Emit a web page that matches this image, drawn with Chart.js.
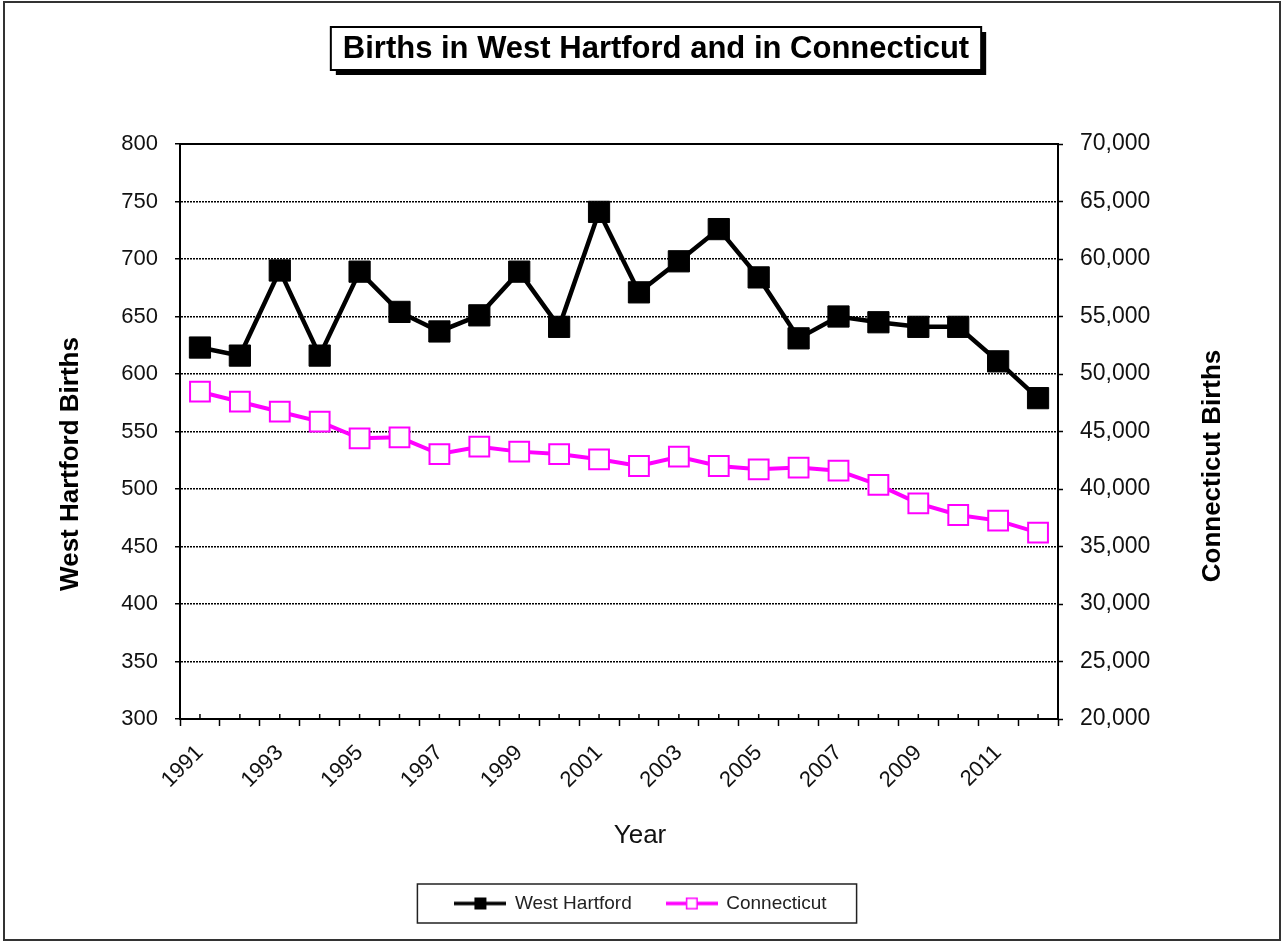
<!DOCTYPE html>
<html lang="en">
<head>
<meta charset="UTF-8">
<title>Births in West Hartford and in Connecticut</title>
<script src="https://cdn.jsdelivr.net/npm/chart.js@4"></script>
<style>
  body { margin: 0; background: #fff; }
  canvas { display: block; }
</style>
</head>
<body>
<canvas id="births-chart" width="1282" height="942"></canvas>
<script>
// values
const years = ['1991', '1992', '1993', '1994', '1995', '1996', '1997', '1998', '1999', '2000', '2001',
               '2002', '2003', '2004', '2005', '2006', '2007', '2008', '2009', '2010', '2011', '2012'];
const shownYears = ['1991', '1993', '1995', '1997', '1999', '2001', '2003', '2005', '2007', '2009', '2011'];
const westHartford = [623, 616, 690, 616, 689, 654, 637, 651, 689, 641, 741,
                      671, 698, 726, 684, 631, 650, 645, 641, 641, 611, 579];
const connecticut = [48460, 47590, 46720, 45860, 44410, 44490, 43040, 43680, 43250, 43040, 42580,
                     42000, 42810, 42000, 41710, 41860, 41590, 40350, 38750, 37740, 37250, 36200];

const chartTitle = 'Births in West Hartford and in Connecticut';
const xTitle = 'Year';
const leftTitle = 'West Hartford Births';
const rightTitle = 'Connecticut Births';

const FONT = "'Liberation Sans', Arial, sans-serif";
Chart.defaults.font.family = FONT;
Chart.defaults.color = '#111';

function legendSample(color, fill) {
    const c = document.createElement('canvas');
    c.width = 52;
    c.height = 14;
    const g = c.getContext('2d');
    g.strokeStyle = color;
    g.lineWidth = 3.5;
    g.beginPath();
    g.moveTo(0, 7);
    g.lineTo(52, 7);
    g.stroke();
    g.fillStyle = fill;
    g.fillRect(20, 1, 12, 12);
    g.lineWidth = 1.5;
    g.strokeRect(20.75, 1.75, 10.5, 10.5);
    return c;
}
const samples = [legendSample('#000', '#000'), legendSample('#ff00ff', '#fff')];

// frame, boxed title, axis titles, legend box, minor ticks
const decorations = {
    id: 'decorations',
    beforeDraw(chart) {
        const ctx = chart.ctx;
        ctx.save();
        ctx.fillStyle = '#fff';
        ctx.fillRect(0, 0, chart.width, chart.height);
        ctx.strokeStyle = '#333';
        ctx.lineWidth = 2;
        ctx.strokeRect(4, 2, chart.width - 6, chart.height - 4);
        ctx.restore();
    },
    afterDraw(chart) {
        const ctx = chart.ctx;
        const area = chart.chartArea;
        ctx.save();

        // solid top edge of the plot
        ctx.strokeStyle = '#000';
        ctx.lineWidth = 2;
        ctx.beginPath();
        ctx.moveTo(area.left, area.top);
        ctx.lineTo(area.right, area.top);
        ctx.stroke();

        // small ticks at each category centre
        const x = chart.scales.x;
        ctx.lineWidth = 1.5;
        years.forEach((y, i) => {
            const px = x.getPixelForValue(i);
            ctx.beginPath();
            ctx.moveTo(px, area.bottom);
            ctx.lineTo(px, area.bottom - 5);
            ctx.stroke();
        });

        // title box with drop shadow
        ctx.font = 'bold 31px ' + FONT;
        const tw = ctx.measureText(chartTitle).width;
        const bx = 656 - tw / 2 - 12, by = 27, bw = tw + 24, bh = 43;
        ctx.fillStyle = '#000';
        ctx.fillRect(bx + 5, by + 5, bw, bh);
        ctx.fillStyle = '#fff';
        ctx.fillRect(bx, by, bw, bh);
        ctx.lineWidth = 2;
        ctx.strokeRect(bx, by, bw, bh);
        ctx.fillStyle = '#000';
        ctx.textAlign = 'center';
        ctx.textBaseline = 'middle';
        ctx.fillText(chartTitle, 656, by + bh / 2 + 1);

        // axis titles
        ctx.font = 'bold 26px ' + FONT;
        ctx.save();
        ctx.translate(71, 464);
        ctx.rotate(-Math.PI / 2);
        ctx.fillText(leftTitle, 0, 0);
        ctx.restore();
        ctx.save();
        ctx.translate(1213, 466);
        ctx.rotate(-Math.PI / 2);
        ctx.fillText(rightTitle, 0, 0);
        ctx.restore();
        ctx.font = '26px ' + FONT;
        ctx.fillStyle = '#111';
        ctx.fillText(xTitle, 640, 836);

        // legend frame
        const boxes = chart.legend.legendHitBoxes;
        if (boxes && boxes.length) {
            const first = boxes[0], last = boxes[boxes.length - 1];
            const lx = first.left - 38;
            const rx = last.left + last.width + 30;
            ctx.strokeStyle = '#222';
            ctx.lineWidth = 1.5;
            ctx.strokeRect(lx, first.top - 10, rx - lx, first.height + 20);
        }
        ctx.restore();
    }
};

const ctx = document.getElementById('births-chart').getContext('2d');
new Chart(ctx, {
    type: 'line',
    data: {
        labels: years,
        datasets: [{
            label: 'West Hartford',
            data: westHartford,
            yAxisID: 'y',
            borderColor: '#000',
            borderWidth: 4.5,
            pointStyle: 'rect',
            pointRadius: 15,
            pointBackgroundColor: '#000',
            pointBorderColor: '#000',
            pointBorderWidth: 1,
            tension: 0
        }, {
            label: 'Connecticut',
            data: connecticut,
            yAxisID: 'y1',
            borderColor: '#ff00ff',
            borderWidth: 4,
            pointStyle: 'rect',
            pointRadius: 14,
            pointBackgroundColor: '#fff',
            pointBorderColor: '#ff00ff',
            pointBorderWidth: 2,
            tension: 0
        }]
    },
    options: {
        responsive: false,
        animation: false,
        layout: { padding: { top: 144, left: 0, right: 0, bottom: 19 } },
        plugins: {
            title: { display: false },
            tooltip: { enabled: false },
            legend: {
                position: 'bottom',
                labels: {
                    usePointStyle: true,
                    pointStyleWidth: 50,
                    padding: 35,
                    color: '#222',
                    font: { size: 19 },
                    generateLabels(chart) {
                        const items = Chart.defaults.plugins.legend.labels.generateLabels(chart);
                        items.forEach((it, i) => { it.pointStyle = samples[i]; });
                        return items;
                    }
                }
            }
        },
        scales: {
            x: {
                offset: true,
                grid: {
                    offset: true,
                    drawOnChartArea: false,
                    tickLength: 7,
                    tickColor: '#000',
                    tickWidth: 1.5
                },
                border: { color: '#000', width: 2 },
                ticks: {
                    autoSkip: false,
                    minRotation: 45,
                    maxRotation: 45,
                    padding: 14,
                    font: { size: 22 },
                    callback(value, i) {
                        return shownYears.includes(years[i]) ? years[i] : '';
                    }
                },
                afterFit(scale) { scale.height = 140; }
            },
            y: {
                position: 'left',
                min: 300,
                max: 800,
                ticks: { stepSize: 50, padding: 17, font: { size: 22 } },
                grid: {
                    color: '#000',
                    lineWidth: 1.5,
                    tickLength: 5,
                    tickColor: '#000',
                    tickWidth: 1.5
                },
                border: { color: '#000', width: 2, dash: [2, 1] },
                afterFit(scale) { scale.width = 180; }
            },
            y1: {
                position: 'right',
                min: 20000,
                max: 70000,
                ticks: { stepSize: 5000, padding: 17, font: { size: 23 } },
                grid: {
                    drawOnChartArea: false,
                    tickLength: 5,
                    tickColor: '#000',
                    tickWidth: 1.5
                },
                border: { color: '#000', width: 2 },
                afterFit(scale) { scale.width = 224; }
            }
        }
    },
    plugins: [decorations]
});
</script>
</body>
</html>
